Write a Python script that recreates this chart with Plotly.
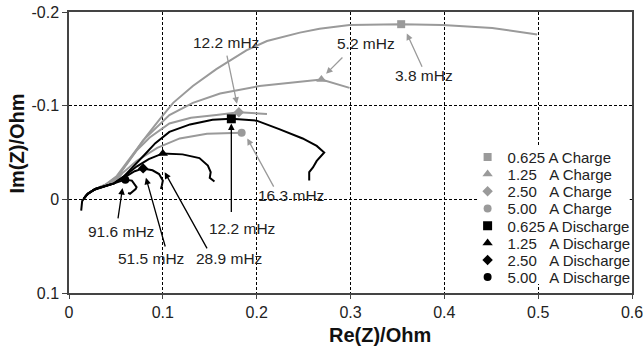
import plotly.graph_objects as go

# ---------------- data (Re(Z), Im(Z) in Ohm) ----------------
SERIES = ["0.625 A Charge", "1.25\u00a0\u00a0\u00a0A Charge", "2.50\u00a0\u00a0\u00a0A Charge", "5.00\u00a0\u00a0\u00a0A Charge",
          "0.625 A Discharge", "1.25\u00a0\u00a0\u00a0A Discharge", "2.50\u00a0\u00a0\u00a0A Discharge", "5.00\u00a0\u00a0\u00a0A Discharge"]

re_c0625 = [0.016, 0.020, 0.028, 0.038, 0.051, 0.062, 0.075, 0.083, 0.097, 0.107, 0.111, 0.132, 0.157, 0.189, 0.211, 0.246, 0.267, 0.299, 0.354, 0.398, 0.451, 0.499]
im_c0625 = [-0.001, -0.006, -0.011, -0.015, -0.025, -0.040, -0.058, -0.068, -0.086, -0.099, -0.103, -0.121, -0.139, -0.159, -0.169, -0.178, -0.182, -0.186, -0.187, -0.186, -0.183, -0.176]

re_c125 = [0.016, 0.020, 0.028, 0.038, 0.051, 0.062, 0.079, 0.094, 0.107, 0.132, 0.161, 0.203, 0.246, 0.269, 0.299]
im_c125 = [-0.001, -0.006, -0.011, -0.015, -0.024, -0.038, -0.063, -0.078, -0.090, -0.103, -0.113, -0.121, -0.126, -0.128, -0.119]

re_c250 = [0.016, 0.020, 0.028, 0.038, 0.051, 0.060, 0.072, 0.086, 0.107, 0.130, 0.157, 0.181, 0.211]
im_c250 = [-0.001, -0.006, -0.011, -0.015, -0.022, -0.036, -0.052, -0.066, -0.081, -0.087, -0.090, -0.093, -0.091]

re_c500 = [0.016, 0.020, 0.028, 0.038, 0.051, 0.057, 0.072, 0.094, 0.118, 0.147, 0.184]
im_c500 = [-0.001, -0.006, -0.011, -0.015, -0.021, -0.028, -0.041, -0.055, -0.065, -0.070, -0.071]

re_d0625 = [0.016, 0.020, 0.028, 0.038, 0.048, 0.058, 0.068, 0.080, 0.092, 0.107, 0.129, 0.153, 0.173, 0.200, 0.224, 0.249, 0.264, 0.272, 0.264, 0.260, 0.256, 0.256]
im_d0625 = [-0.001, -0.006, -0.011, -0.014, -0.017, -0.024, -0.035, -0.047, -0.060, -0.072, -0.080, -0.085, -0.086, -0.084, -0.075, -0.065, -0.057, -0.050, -0.041, -0.034, -0.029, -0.020]

re_d125 = [0.016, 0.020, 0.028, 0.038, 0.048, 0.062, 0.072, 0.085, 0.100, 0.121, 0.139, 0.148, 0.151, 0.150, 0.155]
im_d125 = [-0.001, -0.006, -0.011, -0.014, -0.017, -0.027, -0.035, -0.043, -0.049, -0.048, -0.044, -0.036, -0.029, -0.023, -0.019]

re_d250 = [0.016, 0.020, 0.028, 0.038, 0.048, 0.060, 0.070, 0.079, 0.089, 0.096, 0.100, 0.099, 0.098]
im_d250 = [-0.001, -0.006, -0.011, -0.014, -0.017, -0.024, -0.030, -0.033, -0.031, -0.027, -0.020, -0.015, -0.011]

re_d500 = [0.013, 0.014, 0.018, 0.026, 0.036, 0.046, 0.054, 0.060, 0.067, 0.072, 0.071, 0.065, 0.063]
im_d500 = [0.012, 0.002, -0.004, -0.010, -0.013, -0.016, -0.019, -0.021, -0.020, -0.013, -0.011, -0.006, -0.007]

CURVES_RE = [re_c0625, re_c125, re_c250, re_c500, re_d0625, re_d125, re_d250, re_d500]
CURVES_IM = [im_c0625, im_c125, im_c250, im_c500, im_d0625, im_d125, im_d250, im_d500]
MARKER_IDX = [18, 13, 11, 10, 12, 8, 7, 7]   # point of each curve carrying its symbol

FREQ_LABELS = ["12.2 mHz", "5.2 mHz", "3.8 mHz", "16.3 mHz", "12.2 mHz", "91.6 mHz", "51.5 mHz", "28.9 mHz"]
LABEL_RE = [0.167, 0.317, 0.378, 0.237, 0.184, 0.055, 0.087, 0.170]
LABEL_IM = [-0.167, -0.166, -0.132, -0.004, 0.031, 0.034, 0.063, 0.063]
TAIL_RE = [0.168, 0.293, 0.377, 0.219, 0.173, 0.052, 0.103, 0.148]
TAIL_IM = [-0.155, -0.153, -0.140, -0.012, 0.015, 0.022, 0.052, 0.054]
HEAD_RE = [0.179, 0.274, 0.360, 0.190, 0.173, 0.057, 0.082, 0.102]
HEAD_IM = [-0.102, -0.134, -0.177, -0.065, -0.081, -0.012, -0.023, -0.029]

X_TICKS = [0, 0.1, 0.2, 0.3, 0.4, 0.5, 0.6]
X_TICKTEXT = ["0", "0.1", "0.2", "0.3", "0.4", "0.5", "0.6"]
Y_TICKS = [-0.2, -0.1, 0, 0.1]
Y_TICKTEXT = ["-0.2", "-0.1", "0", "0.1"]

# ---------------- styling ----------------
FONT = "Liberation Sans, Arial, Helvetica, sans-serif"
GRAY = "#9a9a9a"
BLACK = "#000000"
COLORS = [GRAY] * 4 + [BLACK] * 4
SYMBOLS = ["square", "triangle-up", "diamond", "circle"] * 2
SIZES = [8, 9, 8, 8, 9, 9, 8, 8]

fig = go.Figure()

for i in range(8):
    fig.add_trace(go.Scatter(x=CURVES_RE[i], y=CURVES_IM[i], mode="lines",
                             line=dict(color=COLORS[i], width=2), showlegend=False,
                             hoverinfo="skip"))

for i in range(8):
    k = MARKER_IDX[i]
    fig.add_trace(go.Scatter(x=[CURVES_RE[i][k]], y=[CURVES_IM[i][k]], mode="markers",
                             marker=dict(color=COLORS[i], symbol=SYMBOLS[i], size=SIZES[i]),
                             name=SERIES[i], legend="legend" if i == 0 else f"legend{i+1}"))

# legend rows (one legend per row so that rows are 17 px apart)
plot_top, plot_bottom = 12, 293
row_centers = [157.3, 174.3, 191.5, 208.8, 226.0, 243.2, 260.2, 277.2]
legend_layout = {}
for i, yc in enumerate(row_centers):
    key = "legend" if i == 0 else f"legend{i+1}"
    legend_layout[key] = dict(x=0.708, xanchor="left", y=(plot_bottom - yc) / (plot_bottom - plot_top),
                              yanchor="middle", bgcolor="rgba(0,0,0,0)", borderwidth=0,
                              font=dict(family=FONT, size=15, color="#222"), itemwidth=30)

annotations = []
for i in range(8):
    col = GRAY if i < 4 else BLACK
    annotations.append(dict(x=HEAD_RE[i], y=HEAD_IM[i], ax=TAIL_RE[i], ay=TAIL_IM[i],
                            xref="x", yref="y", axref="x", ayref="y", text="",
                            showarrow=True, arrowhead=2, arrowsize=1, arrowwidth=1.3,
                            arrowcolor=col, standoff=0, startstandoff=0))
    annotations.append(dict(x=LABEL_RE[i], y=LABEL_IM[i], xref="x", yref="y", text=FREQ_LABELS[i],
                            showarrow=False, font=dict(family=FONT, size=15.5, color="#222"),
                            xanchor="center", yanchor="middle"))

annotations.append(dict(x=(380 - 69) / 563, y=-0.15, xref="paper", yref="paper", text="<b>Re(Z)/Ohm</b>",
                        showarrow=False, font=dict(family=FONT, size=20, color="#111"),
                        xanchor="center", yanchor="middle"))
annotations.append(dict(x=(16.5 - 69) / 563, y=(293 - 144) / 281, xref="paper", yref="paper",
                        text="<b>Im(Z)/Ohm</b>", textangle=-90, showarrow=False,
                        font=dict(family=FONT, size=20, color="#111"),
                        xanchor="center", yanchor="middle"))

fig.update_layout(
    width=643, height=352,
    margin=dict(l=69, r=11, t=12, b=59, autoexpand=False),
    paper_bgcolor="white", plot_bgcolor="white",
    font=dict(family=FONT, size=16, color="#222"),
    annotations=annotations,
    shapes=[dict(type="rect", xref="paper", yref="paper", x0=(478 - 69) / 563, x1=0.996,
                 y0=(293 - 284) / 281, y1=(293 - 147) / 281, fillcolor="white",
                 line=dict(width=0), layer="above")],
    **legend_layout,
)

fig.update_xaxes(range=[0, 0.6], tickvals=X_TICKS, ticktext=X_TICKTEXT,
                 showgrid=True, gridcolor="#000", griddash="3px,2px", gridwidth=1,
                 showline=True, linecolor="#444", linewidth=1.5, mirror=True,
                 ticks="outside", ticklen=4, tickcolor="#444", automargin=False,
                 ticklabeloverflow="allow",
                 tickfont=dict(family=FONT, size=16, color="#222"), zeroline=False)
fig.update_yaxes(range=[0.1, -0.2], tickvals=Y_TICKS, ticktext=Y_TICKTEXT,
                 showgrid=True, gridcolor="#000", griddash="3px,2px", gridwidth=1,
                 showline=True, linecolor="#444", linewidth=1.5, mirror=True,
                 ticks="outside", ticklen=5, tickcolor="#444", automargin=False,
                 ticklabeloverflow="allow",
                 tickfont=dict(family=FONT, size=16, color="#222"), zeroline=False)

fig.write_html("out.html", config={"displayModeBar": False},
               post_script="document.body.style.margin='0';document.body.style.overflow='hidden';")
